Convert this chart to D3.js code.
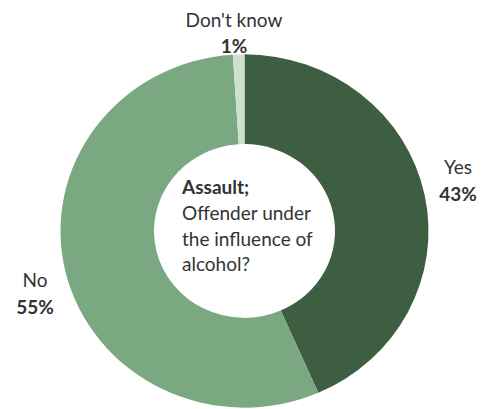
<!DOCTYPE html>
<html>
<head>
<meta charset="utf-8">
<script src="https://cdn.jsdelivr.net/npm/d3@7"></script>
<style>
  html, body { margin: 0; padding: 0; background: #fff; }
  svg { display: block; }
  text { font-family: Lato, "Noto Sans", sans-serif; fill: #333; }
</style>
</head>
<body>
<svg id="chart" width="488" height="409"></svg>
<script>
const categories = ["Yes", "No", "Don't know"];
const values = [43, 55, 1];
const valueLabels = ["43%", "55%", "1%"];
const colors = ["#3e5e42", "#7aa880", "#cce2cf"];
const centerTitle = "Assault;";
const centerLines = ["Offender under", "the influence of", "alcohol?"];

const svg = d3.select("#chart");
const cx = 244.5, cy = 231, outerR = 184, innerR = 90.5, yScale = 0.96;

const pie = d3.pie().sort(null).value(d => d.value).startAngle(0).endAngle(2 * Math.PI);
const data = pie(categories.map((c, i) => ({ cat: c, value: values[i], label: valueLabels[i], color: colors[i] })));
const arc = d3.arc().innerRadius(innerR).outerRadius(outerR);

const g = svg.append("g").attr("transform", `translate(${cx},${cy}) scale(1,${yScale})`);
g.selectAll("path").data(data).join("path")
  .attr("d", arc)
  .attr("fill", d => d.data.color);

// Data labels (outside end), positions chosen per reference
const labelPos = {
  "Yes": { x: 458, y1: 174, y2: 201 },
  "No": { x: 35, y1: 287, y2: 314 },
  "Don't know": { x: 234, y1: 27, y2: 53 }
};
const fs = 19;
data.forEach(d => {
  const p = labelPos[d.data.cat];
  svg.append("text").attr("x", p.x).attr("y", p.y1).attr("text-anchor", "middle")
    .attr("font-size", fs).text(d.data.cat);
  svg.append("text").attr("x", p.x).attr("y", p.y2).attr("text-anchor", "middle")
    .attr("font-size", fs).attr("font-weight", "bold").text(d.data.label);
});

// Center text
const tx = 182;
svg.append("text").attr("x", tx).attr("y", 194).attr("font-size", fs).attr("font-weight", "bold").text(centerTitle);
centerLines.forEach((t, i) => {
  svg.append("text").attr("x", tx).attr("y", 220 + i * 25.5).attr("font-size", fs).text(t);
});
</script>
</body>
</html>
